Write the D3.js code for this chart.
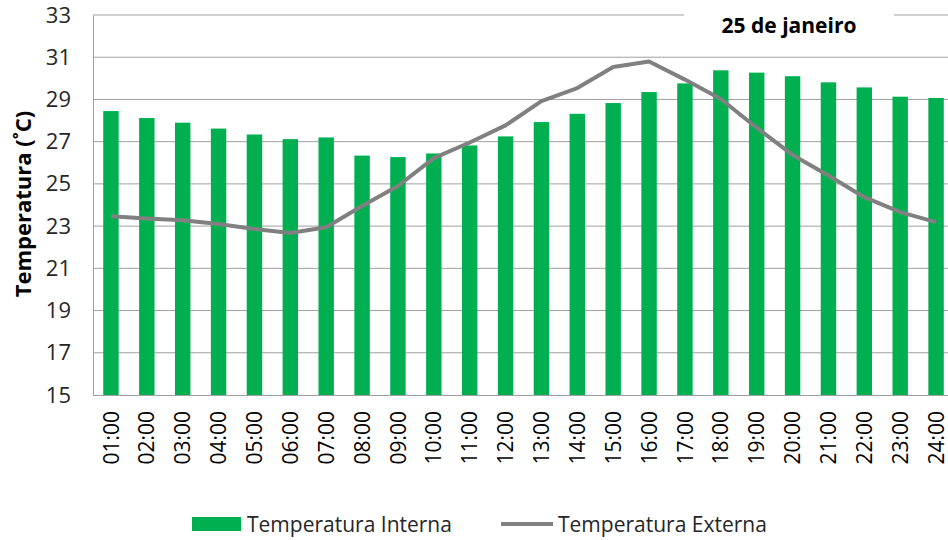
<!DOCTYPE html>
<html>
<head>
<meta charset="utf-8">
<script src="https://cdn.jsdelivr.net/npm/d3@7"></script>
<style>
  body { margin: 0; background: #fff; }
  text { font-family: "Open Sans", sans-serif; }
</style>
</head>
<body>
<div id="chart"></div>
<script>
const hours = ["01:00","02:00","03:00","04:00","05:00","06:00","07:00","08:00","09:00","10:00","11:00","12:00",
               "13:00","14:00","15:00","16:00","17:00","18:00","19:00","20:00","21:00","22:00","23:00","24:00"];
const interna = [28.45, 28.12, 27.9, 27.62, 27.34, 27.12, 27.2, 26.34, 26.27, 26.44, 26.82, 27.25,
                 27.93, 28.32, 28.83, 29.35, 29.76, 30.38, 30.27, 30.1, 29.81, 29.57, 29.13, 29.07];
const externa = [23.47, 23.36, 23.28, 23.1, 22.86, 22.67, 22.95, 23.95, 24.9, 26.22, 26.96, 27.77,
                 28.92, 29.54, 30.54, 30.8, 29.94, 29.02, 27.66, 26.37, 25.4, 24.37, 23.66, 23.19];
const yTicks = [15, 17, 19, 21, 23, 25, 27, 29, 31, 33];

const width = 948, height = 540;
const margin = {top: 15, right: -6, bottom: 145, left: 93};

const svg = d3.select("#chart")
    .append("svg")
    .attr("width", width)
    .attr("height", height);

const xScale = d3.scaleBand()
    .domain(hours)
    .range([margin.left, width - margin.right])
    .paddingInner(0.57)
    .paddingOuter(0.285);

const yScale = d3.scaleLinear()
    .domain([15, 33])
    .range([height - margin.bottom, margin.top]);

// gridlines
svg.append("g")
    .selectAll("line")
    .data(yTicks.slice(1))
    .join("line")
    .attr("x1", margin.left)
    .attr("x2", width)
    .attr("y1", d => yScale(d))
    .attr("y2", d => yScale(d))
    .attr("stroke", "#a0a0a0")
    .attr("stroke-width", 1);

// bars
svg.append("g")
    .selectAll("rect")
    .data(interna)
    .join("rect")
    .attr("x", (d, i) => xScale(hours[i]))
    .attr("y", d => yScale(d))
    .attr("width", xScale.bandwidth())
    .attr("height", d => yScale(15) - yScale(d))
    .attr("fill", "#00b050");

// line
const line = d3.line()
    .x((d, i) => xScale(hours[i]) + xScale.bandwidth() / 2)
    .y(d => yScale(d));

svg.append("path")
    .datum(externa)
    .attr("d", line)
    .attr("fill", "none")
    .attr("stroke", "#808080")
    .attr("stroke-width", 4)
    .attr("stroke-linejoin", "round");

// y-axis
const yAxis = svg.append("g")
    .attr("transform", `translate(${margin.left},0)`)
    .call(d3.axisLeft(yScale).tickValues(yTicks).tickSize(0).tickPadding(22));
yAxis.select(".domain").attr("stroke", "#a0a0a0");
yAxis.selectAll("text")
    .style("font-size", "22px")
    .attr("fill", "#262626");

// x-axis
const xAxis = svg.append("g")
    .attr("transform", `translate(0,${height - margin.bottom})`)
    .call(d3.axisBottom(xScale).tickSize(0));
xAxis.select(".domain").attr("stroke", "#a0a0a0").attr("d", `M${margin.left},0.5H${width}`);
xAxis.selectAll("text")
    .style("font-size", "21px")
    .attr("fill", "#000")
    .attr("transform", "rotate(-90)")
    .attr("text-anchor", "end")
    .attr("dy", "0.36em")
    .attr("x", -16)
    .attr("y", 0);

// title with white box
svg.append("rect")
    .attr("x", 684)
    .attr("y", 0)
    .attr("width", 210)
    .attr("height", 40)
    .attr("fill", "#fff");

svg.append("text")
    .attr("x", 789)
    .attr("y", 33)
    .attr("text-anchor", "middle")
    .style("font-size", "21px")
    .style("font-weight", "bold")
    .text("25 de janeiro");

// y label
svg.append("text")
    .attr("transform", "rotate(-90)")
    .attr("x", -204)
    .attr("y", 31)
    .attr("text-anchor", "middle")
    .style("font-size", "22px")
    .style("font-weight", "bold")
    .text("Temperatura (˚C)");

// legend
const legend = svg.append("g");
legend.append("rect")
    .attr("x", 192)
    .attr("y", 517)
    .attr("width", 49)
    .attr("height", 14)
    .attr("fill", "#00b050");
legend.append("text")
    .attr("x", 247)
    .attr("y", 532)
    .style("font-size", "21px")
    .attr("fill", "#262626")
    .text("Temperatura Interna");
legend.append("line")
    .attr("x1", 501)
    .attr("x2", 553)
    .attr("y1", 524)
    .attr("y2", 524)
    .attr("stroke", "#808080")
    .attr("stroke-width", 4);
legend.append("text")
    .attr("x", 558)
    .attr("y", 532)
    .style("font-size", "21px")
    .attr("fill", "#262626")
    .text("Temperatura Externa");
</script>
</body>
</html>
